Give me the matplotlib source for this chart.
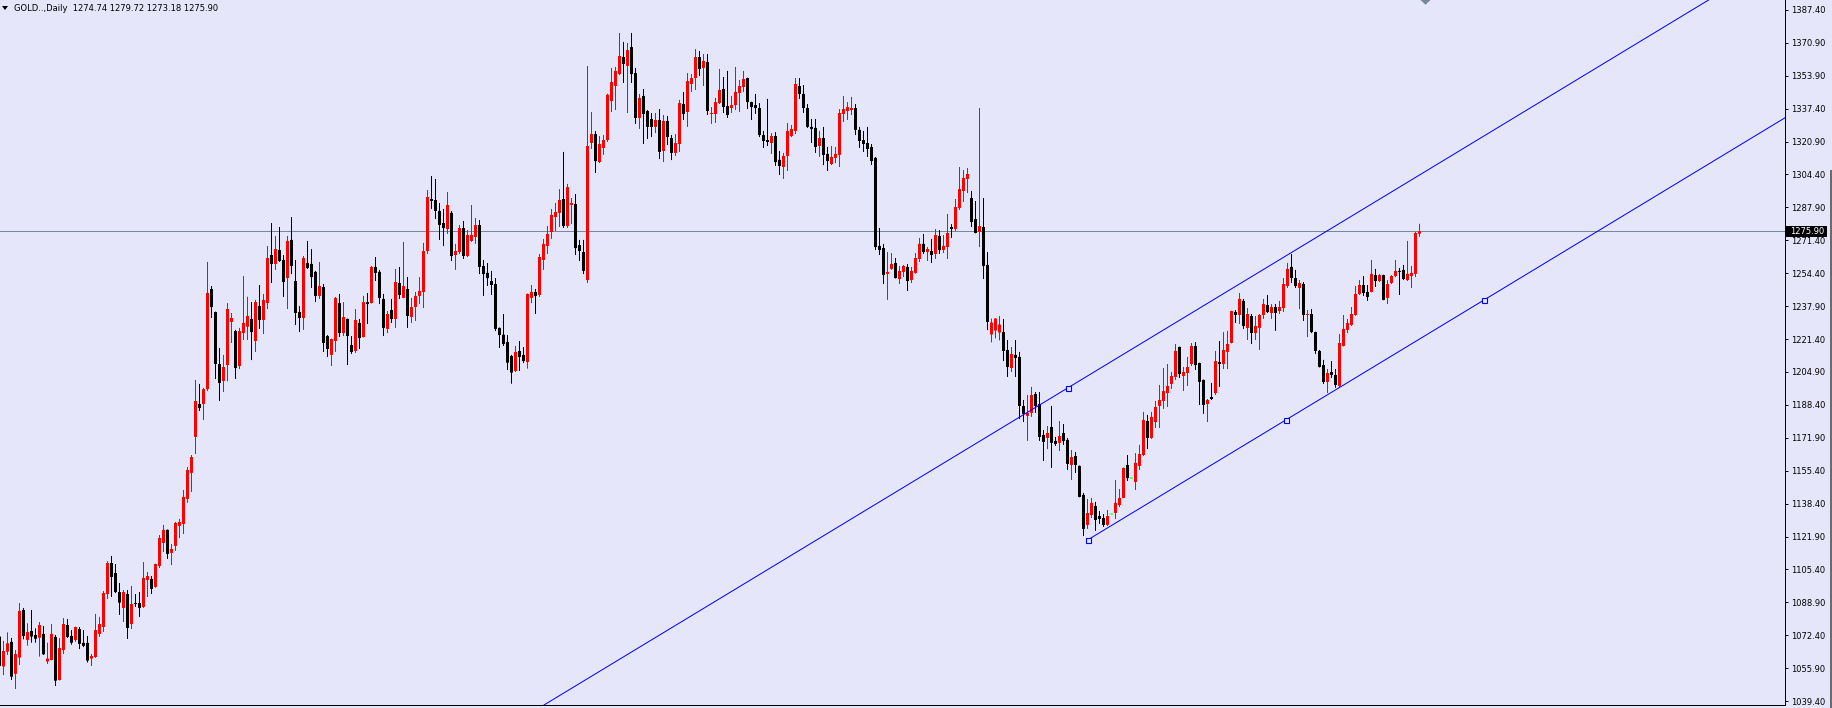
import matplotlib.pyplot as plt
import numpy as np
from matplotlib.lines import Line2D
from matplotlib.patches import Polygon, Rectangle
from matplotlib.transforms import Affine2D, blended_transform_factory

plt.rcParams["font.family"] = ["DejaVu Sans"]

HEADER = "GOLD..,Daily  1274.74 1279.72 1273.18 1275.90"
LAST_PRICE = 1275.90

# daily bars, oldest first (first bar is cut by the left edge)
opens = [
    1071.9, 1056.8, 1064.3, 1069.2, 1053.1, 1061.3, 1085.3, 1070.2, 1074.7, 1072.7,
    1071.3, 1073.2, 1059.3, 1060.1, 1071.7, 1050.0, 1065.1, 1077.7, 1072.2, 1070.2,
    1075.7, 1068.7, 1068.7, 1060.8, 1061.6, 1073.2, 1076.7, 1093.3, 1108.9, 1103.9,
    1094.3, 1086.3, 1093.3, 1078.2, 1088.8, 1088.8, 1086.8, 1100.4, 1100.9, 1096.9,
    1107.4, 1119.0, 1125.6, 1114.0, 1117.5, 1127.6, 1128.6, 1141.2, 1154.3, 1172.4,
    1189.0, 1189.0, 1196.5, 1246.9, 1235.3, 1209.1, 1200.6, 1208.6, 1230.3, 1225.7,
    1208.1, 1224.7, 1227.9, 1231.8, 1220.7, 1238.3, 1231.3, 1239.8, 1264.0, 1259.5,
    1266.5, 1261.5, 1252.4, 1271.6, 1250.9, 1235.3, 1232.3, 1260.0, 1259.5, 1255.5,
    1243.4, 1247.9, 1223.2, 1213.7, 1220.7, 1239.8, 1224.7, 1231.8, 1218.7, 1215.7,
    1229.8, 1222.7, 1240.3, 1239.8, 1258.0, 1255.5, 1241.9, 1226.8, 1236.3, 1231.8,
    1249.9, 1242.4, 1246.9, 1232.8, 1237.8, 1243.4, 1245.4, 1266.0, 1292.2, 1291.7,
    1286.2, 1280.1, 1277.1, 1285.2, 1264.0, 1265.5, 1277.6, 1263.5, 1271.1, 1273.1,
    1279.1, 1258.5, 1255.0, 1250.9, 1249.4, 1227.3, 1223.9, 1220.2, 1213.2, 1205.6,
    1215.7, 1213.7, 1210.1, 1242.4, 1245.4, 1243.9, 1261.5, 1268.5, 1275.6, 1283.1,
    1285.2, 1292.2, 1278.6, 1289.2, 1289.7, 1269.0, 1265.5, 1251.4, 1320.4, 1324.9,
    1310.8, 1317.9, 1321.9, 1341.5, 1349.1, 1355.1, 1363.7, 1359.2, 1368.7, 1355.6,
    1333.0, 1344.1, 1336.5, 1332.5, 1328.5, 1332.0, 1316.4, 1331.5, 1322.9, 1315.4,
    1319.9, 1340.0, 1336.0, 1350.1, 1353.1, 1363.7, 1358.2, 1361.2, 1335.0, 1335.0,
    1340.5, 1347.6, 1339.0, 1338.0, 1339.5, 1345.6, 1348.6, 1353.1, 1341.0, 1339.5,
    1338.0, 1324.4, 1321.9, 1320.4, 1323.9, 1311.9, 1308.3, 1313.9, 1323.9, 1326.5,
    1349.1, 1345.1, 1338.0, 1328.5, 1328.0, 1318.9, 1322.9, 1314.9, 1309.8, 1312.9,
    1314.4, 1335.0, 1336.5, 1337.0, 1338.0, 1327.0, 1321.9, 1320.4, 1318.4, 1312.9,
    1268.6, 1267.5, 1254.5, 1257.0, 1260.0, 1251.9, 1255.5, 1258.0, 1251.4, 1255.0,
    1262.0, 1269.6, 1265.5, 1266.0, 1264.5, 1273.6, 1266.5, 1268.0, 1278.1, 1277.1,
    1287.7, 1296.2, 1302.3, 1292.7, 1282.1, 1275.6, 1278.1, 1259.0, 1224.0, 1226.0,
    1225.0, 1225.2, 1216.2, 1207.1, 1213.7, 1212.7, 1188.0, 1183.0, 1184.5, 1194.0,
    1189.0, 1173.4, 1171.9, 1177.4, 1170.4, 1169.4, 1174.4, 1170.9, 1158.3, 1162.8,
    1157.8, 1143.2, 1128.1, 1133.1, 1137.6, 1132.6, 1131.6, 1128.1, 1133.6, 1134.1,
    1138.1, 1141.7, 1158.3, 1151.7, 1149.7, 1157.8, 1163.3, 1180.4, 1171.9, 1179.9,
    1188.0, 1190.5, 1194.5, 1199.1, 1202.6, 1217.7, 1203.1, 1204.6, 1209.1, 1218.2,
    1209.6, 1201.1, 1189.0, 1192.5, 1194.5, 1210.1, 1209.1, 1215.2, 1219.7, 1235.3,
    1233.8, 1240.9, 1227.3, 1233.3, 1224.7, 1227.3, 1233.8, 1238.8, 1234.8, 1237.8,
    1235.8, 1237.3, 1248.4, 1258.0, 1252.4, 1247.4, 1249.4, 1233.8, 1234.3, 1225.2,
    1215.7, 1208.6, 1200.1, 1205.1, 1203.6, 1198.1, 1218.2, 1226.3, 1228.8, 1233.8,
    1244.4, 1248.9, 1245.4, 1245.4, 1253.9, 1250.9, 1253.9, 1242.4, 1249.9, 1253.4,
    1256.0, 1256.5, 1251.4, 1253.4, 1254.5, 1274.74,
]
highs = [
    1072.7, 1069.7, 1074.0, 1071.2, 1065.1, 1088.8, 1086.3, 1078.6, 1085.3, 1076.0,
    1079.2, 1077.2, 1068.8, 1078.2, 1072.7, 1071.2, 1081.2, 1080.7, 1075.2, 1076.9,
    1076.7, 1075.2, 1072.2, 1063.1, 1083.3, 1081.8, 1094.8, 1109.9, 1112.5, 1108.4,
    1098.9, 1095.3, 1095.3, 1097.4, 1093.3, 1094.3, 1109.4, 1104.4, 1102.4, 1108.6,
    1123.0, 1128.1, 1125.8, 1118.5, 1129.6, 1131.1, 1145.7, 1157.3, 1163.3, 1201.1,
    1199.1, 1197.1, 1260.5, 1248.4, 1235.5, 1217.2, 1213.7, 1239.8, 1234.8, 1226.3,
    1227.3, 1253.4, 1243.0, 1240.3, 1241.4, 1248.9, 1244.4, 1268.5, 1280.1, 1273.6,
    1278.1, 1264.0, 1273.6, 1283.1, 1261.5, 1238.3, 1263.5, 1271.1, 1267.0, 1256.0,
    1260.5, 1249.4, 1223.7, 1221.9, 1242.9, 1244.4, 1240.3, 1232.0, 1223.2, 1236.8,
    1231.8, 1243.4, 1244.9, 1258.5, 1263.0, 1256.5, 1244.4, 1235.8, 1241.9, 1257.0,
    1258.0, 1270.6, 1252.9, 1242.4, 1245.4, 1252.9, 1270.1, 1296.7, 1303.8, 1302.3,
    1290.2, 1287.2, 1295.7, 1286.2, 1269.6, 1279.1, 1281.1, 1276.6, 1289.2, 1282.6,
    1281.6, 1261.5, 1260.0, 1256.0, 1252.4, 1227.5, 1234.3, 1223.7, 1213.7, 1218.2,
    1220.7, 1217.7, 1244.6, 1248.9, 1246.9, 1264.5, 1272.1, 1278.6, 1287.2, 1290.2,
    1297.2, 1315.9, 1299.8, 1292.7, 1294.7, 1271.6, 1271.6, 1359.2, 1336.0, 1326.4,
    1323.9, 1324.4, 1345.2, 1358.2, 1358.7, 1375.8, 1371.3, 1370.8, 1375.8, 1358.2,
    1345.1, 1347.6, 1337.0, 1335.5, 1335.5, 1337.5, 1334.5, 1334.0, 1324.4, 1324.9,
    1342.1, 1346.1, 1355.6, 1355.1, 1367.7, 1366.7, 1365.2, 1365.2, 1338.5, 1343.1,
    1357.7, 1353.6, 1356.7, 1344.1, 1358.7, 1352.1, 1356.7, 1353.3, 1341.2, 1345.1,
    1340.5, 1326.5, 1342.6, 1325.4, 1325.9, 1316.4, 1315.4, 1330.5, 1329.5, 1353.1,
    1353.1, 1349.6, 1340.0, 1332.5, 1332.5, 1326.5, 1328.5, 1318.4, 1318.9, 1318.4,
    1337.5, 1344.1, 1341.0, 1343.6, 1340.0, 1328.5, 1326.5, 1328.5, 1319.9, 1313.4,
    1277.6, 1269.6, 1265.5, 1265.0, 1262.5, 1258.5, 1259.0, 1259.5, 1258.0, 1265.0,
    1272.6, 1274.6, 1268.0, 1272.1, 1277.1, 1276.6, 1274.1, 1284.7, 1279.6, 1292.2,
    1308.3, 1306.8, 1307.8, 1296.2, 1291.2, 1338.0, 1292.7, 1265.5, 1232.0, 1232.3,
    1233.3, 1231.8, 1221.2, 1217.7, 1221.2, 1215.2, 1191.0, 1193.5, 1197.6, 1195.0,
    1195.0, 1175.9, 1177.9, 1188.0, 1172.4, 1180.4, 1178.9, 1171.9, 1165.8, 1164.8,
    1158.0, 1144.2, 1141.2, 1141.7, 1139.7, 1135.1, 1133.6, 1135.6, 1133.6, 1150.7,
    1146.2, 1157.0, 1163.3, 1151.7, 1164.3, 1168.4, 1185.0, 1183.5, 1185.0, 1190.5,
    1198.6, 1207.1, 1209.1, 1205.1, 1219.2, 1217.9, 1207.6, 1212.7, 1219.7, 1220.2,
    1209.8, 1201.3, 1191.5, 1199.6, 1215.7, 1220.7, 1225.2, 1225.8, 1236.0, 1236.3,
    1244.9, 1241.9, 1237.3, 1234.3, 1233.3, 1234.3, 1241.9, 1243.9, 1239.3, 1239.3,
    1240.9, 1252.4, 1260.0, 1264.5, 1256.5, 1251.4, 1250.4, 1236.3, 1236.8, 1225.4,
    1216.2, 1211.2, 1206.6, 1210.6, 1206.6, 1224.2, 1233.8, 1231.8, 1237.8, 1248.4,
    1251.4, 1253.4, 1248.9, 1261.5, 1257.0, 1254.5, 1254.1, 1251.4, 1253.9, 1261.5,
    1257.5, 1259.0, 1271.1, 1258.5, 1275.6, 1279.72,
]
lows = [
    1055.9, 1052.5, 1062.6, 1050.0, 1045.5, 1057.6, 1070.5, 1067.3, 1068.8, 1068.8,
    1061.8, 1062.6, 1058.1, 1059.9, 1047.0, 1049.8, 1063.1, 1071.2, 1067.8, 1069.2,
    1065.6, 1066.6, 1058.8, 1057.1, 1061.1, 1071.7, 1074.2, 1090.8, 1091.8, 1093.8,
    1082.8, 1079.2, 1070.7, 1075.7, 1086.8, 1081.8, 1086.3, 1091.8, 1093.3, 1096.4,
    1106.4, 1114.5, 1111.0, 1107.9, 1115.0, 1121.5, 1123.5, 1139.2, 1144.7, 1163.8,
    1185.5, 1180.9, 1195.5, 1232.3, 1201.6, 1190.5, 1195.0, 1200.4, 1219.7, 1201.6,
    1206.6, 1221.2, 1221.2, 1211.1, 1215.2, 1226.8, 1224.2, 1236.8, 1249.9, 1256.5,
    1260.5, 1242.9, 1236.8, 1254.4, 1228.8, 1225.2, 1226.3, 1257.0, 1247.4, 1240.3,
    1241.9, 1215.2, 1212.7, 1208.1, 1215.2, 1222.7, 1223.2, 1208.6, 1214.2, 1214.7,
    1216.7, 1222.5, 1229.3, 1239.6, 1250.9, 1239.3, 1223.2, 1224.7, 1229.8, 1227.3,
    1241.9, 1242.2, 1227.3, 1229.8, 1230.8, 1239.3, 1237.3, 1264.5, 1287.2, 1282.1,
    1271.6, 1268.5, 1274.6, 1261.0, 1256.5, 1264.5, 1262.0, 1263.0, 1270.6, 1269.6,
    1254.4, 1243.4, 1248.4, 1243.9, 1225.7, 1217.2, 1218.2, 1206.1, 1199.2, 1205.1,
    1205.6, 1209.6, 1206.8, 1239.8, 1234.3, 1242.9, 1256.5, 1264.5, 1272.1, 1276.1,
    1278.1, 1277.6, 1277.6, 1279.6, 1264.0, 1261.0, 1254.4, 1249.9, 1317.4, 1305.3,
    1310.3, 1314.4, 1320.9, 1336.0, 1337.0, 1354.6, 1350.6, 1335.5, 1350.6, 1330.0,
    1327.5, 1319.9, 1322.4, 1323.4, 1325.4, 1312.3, 1310.8, 1319.4, 1311.8, 1313.9,
    1315.9, 1332.0, 1328.5, 1346.1, 1347.1, 1354.1, 1349.1, 1334.5, 1330.0, 1330.5,
    1340.0, 1335.5, 1333.0, 1335.5, 1337.0, 1336.0, 1346.1, 1337.5, 1332.0, 1335.0,
    1323.4, 1317.9, 1318.9, 1314.9, 1308.8, 1304.3, 1302.3, 1306.3, 1323.4, 1324.9,
    1342.6, 1335.5, 1328.0, 1320.4, 1315.4, 1313.4, 1309.3, 1306.3, 1309.3, 1310.3,
    1308.3, 1331.0, 1332.0, 1334.5, 1324.4, 1317.9, 1315.9, 1313.4, 1309.3, 1266.5,
    1264.0, 1249.4, 1241.4, 1256.5, 1252.2, 1249.4, 1252.9, 1245.9, 1249.9, 1254.5,
    1260.5, 1264.5, 1261.0, 1260.0, 1262.0, 1264.5, 1265.0, 1262.0, 1272.6, 1276.1,
    1286.7, 1290.7, 1295.2, 1278.1, 1274.9, 1268.0, 1251.9, 1226.2, 1220.0, 1222.0,
    1221.0, 1210.6, 1202.6, 1205.1, 1202.6, 1181.4, 1179.9, 1170.4, 1182.5, 1184.5,
    1170.4, 1160.3, 1166.3, 1156.8, 1167.9, 1165.3, 1168.4, 1155.8, 1150.7, 1154.3,
    1142.0, 1122.5, 1126.1, 1131.6, 1125.1, 1128.6, 1127.1, 1127.6, 1133.6, 1131.1,
    1137.1, 1141.5, 1150.2, 1151.7, 1145.7, 1155.8, 1162.8, 1166.3, 1171.4, 1176.9,
    1176.9, 1186.5, 1187.5, 1196.6, 1201.1, 1202.1, 1195.5, 1198.1, 1208.1, 1206.1,
    1188.5, 1184.0, 1179.9, 1191.0, 1193.5, 1197.6, 1206.6, 1206.6, 1219.5, 1229.8,
    1229.3, 1226.8, 1221.2, 1219.2, 1221.2, 1216.2, 1231.8, 1234.8, 1231.8, 1225.8,
    1234.3, 1235.3, 1247.4, 1249.9, 1247.4, 1236.8, 1230.8, 1222.7, 1224.7, 1214.2,
    1207.4, 1199.1, 1194.5, 1202.1, 1197.1, 1197.1, 1218.0, 1224.7, 1228.3, 1233.3,
    1243.9, 1243.4, 1240.9, 1245.2, 1247.9, 1250.4, 1241.2, 1239.3, 1249.4, 1252.9,
    1243.9, 1251.4, 1250.9, 1247.4, 1252.9, 1273.18,
]
closes = [
    1057.1, 1064.6, 1068.5, 1051.7, 1063.1, 1084.8, 1072.2, 1074.2, 1071.9, 1070.8,
    1077.7, 1063.0, 1060.8, 1073.2, 1049.7, 1066.1, 1078.2, 1071.7, 1068.8, 1076.7,
    1068.2, 1067.2, 1059.8, 1062.1, 1075.2, 1078.2, 1093.8, 1108.9, 1101.9, 1094.3,
    1089.0, 1094.3, 1076.2, 1088.3, 1088.3, 1086.3, 1101.4, 1102.4, 1095.9, 1108.4,
    1121.5, 1125.6, 1113.5, 1116.0, 1129.1, 1129.6, 1142.2, 1155.8, 1162.3, 1190.5,
    1187.0, 1196.5, 1244.9, 1237.8, 1209.1, 1199.6, 1207.6, 1236.8, 1232.3, 1207.1,
    1225.7, 1229.8, 1233.3, 1225.2, 1240.3, 1231.3, 1241.4, 1262.5, 1259.5, 1267.0,
    1261.0, 1250.4, 1271.1, 1258.5, 1234.8, 1232.3, 1262.5, 1257.5, 1252.9, 1243.4,
    1248.4, 1219.7, 1216.7, 1221.7, 1242.4, 1224.7, 1232.8, 1223.2, 1215.2, 1231.3,
    1222.2, 1240.3, 1239.3, 1258.0, 1255.0, 1242.4, 1227.3, 1234.3, 1231.8, 1250.4,
    1243.9, 1248.4, 1233.3, 1237.8, 1243.4, 1245.9, 1266.0, 1293.2, 1291.2, 1286.2,
    1279.1, 1277.6, 1289.2, 1263.5, 1266.0, 1277.6, 1263.5, 1274.1, 1274.1, 1279.1,
    1258.0, 1254.4, 1252.4, 1248.9, 1226.8, 1223.7, 1219.2, 1209.8, 1204.8, 1215.2,
    1212.7, 1210.6, 1244.4, 1245.4, 1243.4, 1263.0, 1269.6, 1274.6, 1284.2, 1285.7,
    1291.7, 1278.6, 1298.2, 1290.2, 1267.5, 1266.0, 1256.0, 1318.9, 1324.9, 1311.3,
    1319.9, 1321.9, 1344.7, 1351.1, 1356.7, 1364.2, 1360.2, 1367.2, 1355.1, 1333.0,
    1343.1, 1335.0, 1328.5, 1328.5, 1332.0, 1315.9, 1331.5, 1323.4, 1315.4, 1320.4,
    1340.5, 1335.0, 1351.6, 1353.1, 1363.7, 1357.7, 1361.7, 1336.5, 1335.5, 1341.0,
    1347.1, 1338.5, 1334.5, 1339.5, 1346.1, 1349.1, 1352.6, 1341.0, 1338.5, 1338.0,
    1324.4, 1321.4, 1320.9, 1323.9, 1310.8, 1308.8, 1313.9, 1326.5, 1327.5, 1350.1,
    1345.1, 1338.0, 1328.5, 1327.5, 1318.4, 1322.9, 1314.4, 1311.3, 1313.4, 1314.9,
    1335.5, 1337.5, 1338.5, 1338.0, 1327.0, 1321.4, 1319.9, 1317.4, 1311.3, 1268.0,
    1266.5, 1253.9, 1255.5, 1259.5, 1252.4, 1256.0, 1258.5, 1250.9, 1256.0, 1262.5,
    1269.6, 1265.5, 1267.0, 1264.0, 1274.1, 1266.5, 1268.6, 1275.1, 1277.1, 1288.2,
    1297.2, 1302.8, 1304.8, 1280.6, 1275.1, 1278.6, 1258.5, 1230.3, 1230.0, 1232.0,
    1229.0, 1215.7, 1207.6, 1214.2, 1212.2, 1188.0, 1184.0, 1184.5, 1193.5, 1188.0,
    1172.4, 1169.9, 1174.4, 1169.4, 1168.9, 1172.9, 1170.4, 1158.8, 1162.3, 1158.3,
    1142.2, 1126.1, 1134.1, 1139.2, 1130.6, 1131.1, 1128.1, 1132.6, 1133.6, 1139.2,
    1141.7, 1156.8, 1151.7, 1151.7, 1159.3, 1163.8, 1180.9, 1171.9, 1182.5, 1187.5,
    1191.0, 1195.5, 1198.1, 1203.1, 1215.7, 1204.1, 1205.1, 1207.6, 1218.2, 1208.6,
    1200.1, 1188.5, 1191.0, 1191.5, 1210.6, 1209.1, 1216.2, 1219.2, 1235.8, 1233.8,
    1241.9, 1228.3, 1234.3, 1224.7, 1228.3, 1233.8, 1239.3, 1235.3, 1237.8, 1234.8,
    1237.8, 1249.4, 1257.0, 1252.4, 1248.4, 1249.9, 1233.8, 1234.3, 1225.2, 1215.7,
    1207.6, 1200.1, 1204.6, 1203.6, 1198.6, 1219.7, 1226.8, 1229.8, 1234.3, 1244.4,
    1248.9, 1244.9, 1242.9, 1254.5, 1250.9, 1253.9, 1241.4, 1249.4, 1253.4, 1256.0,
    1255.5, 1251.9, 1254.5, 1255.0, 1275.1, 1275.90,
]

price_labels = [
    "1387.40", "1370.90", "1353.90", "1337.40", "1320.90", "1304.40", "1287.90",
    "1271.40", "1254.40", "1237.90", "1221.40", "1204.90", "1188.40", "1171.90",
    "1155.40", "1138.40", "1121.90", "1105.40", "1088.90", "1072.40", "1055.90",
    "1039.40",
]

# channel: lower trend line (bar index, price) and the parallel upper line's anchor
lower_trend = [(272, 1120.5), (371, 1241.2)]
upper_anchor = (267, 1197.0)

BG = "#e6e6fa"
BULL = "#ff0000"
BEAR = "#000000"
DOJI = "#00ff00"
LINE_BLUE = "#0000ff"
BID_GRAY = "#778899"
LW = 0.72  # one pixel at 100 dpi

W, H = 1832, 708
fig = plt.figure(figsize=(W / 100, H / 100), dpi=100, facecolor=BG)
px = Affine2D().scale(1 / W, 1 / H) + fig.transFigure

ax = fig.add_axes([0, 3 / H, 1784.5 / W, 705 / H])
ax.set_facecolor(BG)
ax.set_xlim(0.125, 446.25)
ax.set_ylim(1037.43, 1392.4)

o = np.array(opens)
h = np.array(highs)
l = np.array(lows)
c = np.array(closes)
x = np.arange(len(o))

colors = np.where(c > o, BULL, np.where(c < o, BEAR, DOJI))
body = np.abs(c - o)
body_h = np.maximum(body, 0.5)
body_lo = np.minimum(o, c) - (body_h - body) / 2

ax.axhline(LAST_PRICE, color=BID_GRAY, lw=LW, antialiased=False, zorder=1)
# bars sit 4 px apart: 3 px body, 1 px wick, edges on whole pixels
ax.vlines(x, l, h, colors=colors, linewidth=LW, snap=False, zorder=2)
ax.bar(x, body_h, bottom=body_lo, width=0.75, color=colors, linewidth=0,
       snap=False, zorder=2)

# trend channel
(x0, p0), (x1, p1) = lower_trend
slope = (p1 - p0) / (x1 - x0)
x_end = 470
ax.plot([x0, x_end], [p0, p0 + slope * (x_end - x0)], color=LINE_BLUE,
        lw=LW, zorder=3)
ax.axline(upper_anchor, slope=slope, color=LINE_BLUE, lw=LW, zorder=3)
xm = (x0 + x1) / 2
ax.plot([x0, xm, x1, upper_anchor[0]],
        [p0, p0 + slope * (xm - x0), p1, upper_anchor[1]],
        "s", ms=3.6, mfc=BG, mec=LINE_BLUE, mew=0.8, zorder=4)

# price scale on the right
ticks = [float(s) for s in price_labels]
ax.yaxis.tick_right()
ax.set_yticks(np.linspace(ticks[0], ticks[-1], len(ticks)))
ax.set_yticklabels(price_labels)
ax.tick_params(axis="y", direction="out", length=2.2, width=LW, pad=2.2,
               labelsize=6, colors="black")
ax.set_xticks([])
for side in ("left", "top"):
    ax.spines[side].set_visible(False)
for side in ("right", "bottom"):
    ax.spines[side].set_color("black")
    ax.spines[side].set_linewidth(LW)

fig.add_artist(Line2D([0, 1784.5], [0.5, 0.5], transform=px, color="black",
                      lw=LW, antialiased=False))
fig.add_artist(Rectangle((1830, 0), 2, H - 170, transform=px,
                         facecolor="#6b6b6b", edgecolor="none"))

# current price tag
tag = blended_transform_factory(px, ax.transData)
fig.add_artist(Rectangle((1786, LAST_PRICE - 2.65), 41, 5.3, transform=tag,
                         facecolor="black", edgecolor="none", zorder=5))
fig.text(1790, LAST_PRICE, f"{LAST_PRICE:.2f}", transform=tag, color="white",
         fontsize=6, ha="left", va="center", zorder=6)

# header and chart shift marker
fig.add_artist(Polygon([(2, H - 6), (8, H - 6), (5, H - 10)], closed=True,
                       transform=px, facecolor="black", edgecolor="none"))
fig.text(14, H - 10.7, HEADER, transform=px, fontsize=6, color="black",
         ha="left", va="baseline")
fig.add_artist(Polygon([(1420.5, H), (1430.5, H), (1425.5, H - 4.7)], closed=True,
                       transform=px, facecolor=BID_GRAY, edgecolor="none"))

fig.savefig("out.png", dpi=100, facecolor=BG)
